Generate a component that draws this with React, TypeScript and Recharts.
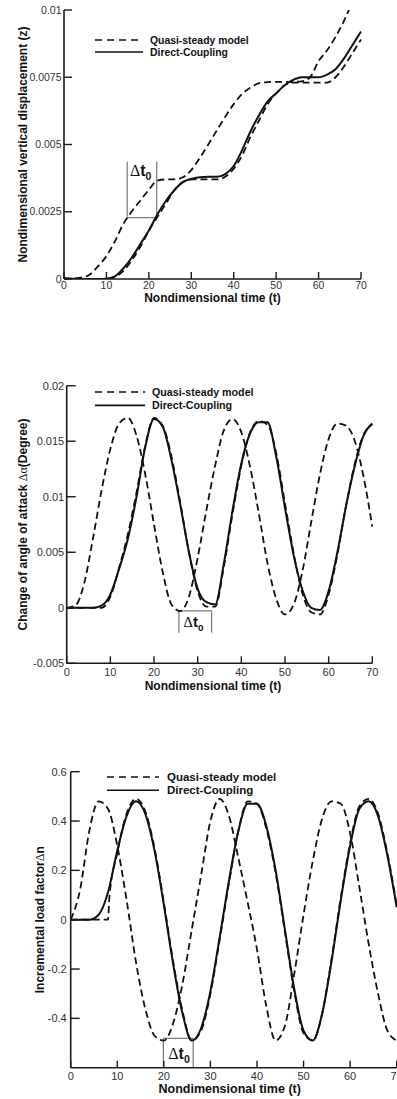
import React from "react";
import { LineChart, Line, XAxis, YAxis, ReferenceLine, ReferenceDot, Legend, Label } from "recharts";

const FONT = '"Liberation Sans", Arial, Helvetica, sans-serif';
const SERIF = '"Liberation Serif", "Times New Roman", serif';

const timeTicks = [0, 10, 20, 30, 40, 50, 60, 70];
const gridTime = [0, 2, 4, 6, 8, 10, 12, 14, 16, 18, 20, 22, 24, 26, 28, 30, 32, 34, 36, 38, 40, 42, 44, 46, 48, 50, 52, 54, 56, 58, 60, 62, 64, 66, 68, 70];
const legendNames = ["Quasi-steady model", "Direct-Coupling"];

// --- vertical displacement z
const zTicks = [0, 0.0025, 0.005, 0.0075, 0.01];
const zQuasi = [0, 0.00002, 0.00005, 0.00016, 0.00047, 0.00085, 0.0014, 0.00205, 0.00252, 0.00292, 0.00332, 0.00366, 0.0037, 0.0037, 0.00378, 0.00405, 0.0045, 0.005, 0.00552, 0.00603, 0.0065, 0.00688, 0.00712, 0.00728, 0.00732, 0.00733, 0.00733, 0.00733, 0.00735, 0.0075, 0.0081, 0.0085, 0.009, 0.0096, 0.0103, 0.011];
const zShifted = [0, 0, 0, 0, 0, 0.00001, 0.00008, 0.0003, 0.0007, 0.0012, 0.0018, 0.0023, 0.0028, 0.0033, 0.0036, 0.0037, 0.0037, 0.0037, 0.0037, 0.0038, 0.0041, 0.0046, 0.0053, 0.0059, 0.0065, 0.0069, 0.0072, 0.0073, 0.0073, 0.0073, 0.0073, 0.0073, 0.0075, 0.0079, 0.0084, 0.0089];
const zDirect = [0.00004, 0.00001, 0, 0, 0, 0.00001, 0.0001, 0.0004, 0.0008, 0.0013, 0.0018, 0.0024, 0.0029, 0.0033, 0.0036, 0.00372, 0.00378, 0.0038, 0.0038, 0.0039, 0.0042, 0.0048, 0.0055, 0.0061, 0.0066, 0.0069, 0.0072, 0.0074, 0.0075, 0.0075, 0.0075, 0.0076, 0.0078, 0.0082, 0.0087, 0.0092];
const zBracket = { left: 14.9, right: 21.85, low: 0.00228, high: 0.00437, labelT: 15.55, labelV: 0.00384 };

// --- angle of attack
const aTicks = [-0.005, 0, 0.005, 0.01, 0.015, 0.02];
const aQuasi = [0, 0.0002, 0.0022, 0.0062, 0.0106, 0.0143, 0.0166, 0.0171, 0.0155, 0.012, 0.0075, 0.0032, 0.0003, -0.0003, 0.001, 0.0045, 0.0088, 0.0128, 0.016, 0.017, 0.0158, 0.0127, 0.0085, 0.004, 0.0008, -0.0006, 0.0003, 0.0033, 0.0077, 0.012, 0.0152, 0.0166, 0.0164, 0.015, 0.0118, 0.0073];
const aShifted = [0, 0, 0, 0, 0, 0.001, 0.0036, 0.0066, 0.0104, 0.0146, 0.0171, 0.0164, 0.0136, 0.0095, 0.005, 0.0015, 0.0001, 0.0001, 0.0037, 0.0085, 0.0128, 0.0158, 0.0168, 0.0165, 0.0139, 0.0094, 0.0049, 0.0013, -0.0004, -0.0006, 0.0012, 0.0048, 0.0092, 0.013, 0.0156, 0.0165];
const aDirect = [0, 0, 0, 0, 0.0002, 0.0012, 0.0035, 0.0062, 0.01, 0.0145, 0.017, 0.0163, 0.0133, 0.0093, 0.005, 0.0017, 0.0005, 0.0003, 0.004, 0.0088, 0.013, 0.0157, 0.0167, 0.0167, 0.0136, 0.009, 0.0047, 0.0016, 0, -0.0002, 0.0015, 0.005, 0.0092, 0.0128, 0.0155, 0.0166];
const aBracket = { left: 25.7, right: 33.2, low: -0.00225, high: -0.00027, labelT: 26.7, labelV: -0.00171 };

// --- incremental load factor
const nTicks = [-0.4, -0.2, 0, 0.2, 0.4, 0.6];
const nQuasi = [0, 0.12, 0.36, 0.48, 0.45, 0.3, 0.08, -0.17, -0.36, -0.47, -0.49, -0.42, -0.26, -0.04, 0.18, 0.4, 0.49, 0.42, 0.25, 0.07, -0.12, -0.35, -0.49, -0.43, -0.22, 0.02, 0.24, 0.41, 0.48, 0.47, 0.35, 0.13, -0.1, -0.3, -0.45, -0.49];
const nShiftedTime = [0, 8, 8.3, 10, 12, 14, 16, 18, 20, 22, 24, 26, 28, 30, 32, 34, 36, 38, 40, 42, 44, 46, 48, 50, 52, 54, 56, 58, 60, 62, 64, 66, 68, 70];
const nShifted = [0, 0, 0.09, 0.27, 0.43, 0.49, 0.44, 0.29, 0.07, -0.17, -0.37, -0.49, -0.45, -0.3, -0.08, 0.15, 0.36, 0.48, 0.47, 0.37, 0.19, -0.05, -0.29, -0.46, -0.49, -0.38, -0.16, 0.09, 0.31, 0.46, 0.49, 0.43, 0.27, 0.06];
const nDirect = [0, 0, 0, 0.02, 0.11, 0.28, 0.42, 0.48, 0.43, 0.28, 0.06, -0.18, -0.38, -0.49, -0.44, -0.29, -0.07, 0.16, 0.36, 0.47, 0.47, 0.38, 0.2, -0.04, -0.28, -0.45, -0.49, -0.38, -0.17, 0.08, 0.3, 0.45, 0.48, 0.42, 0.26, 0.05];
const nBracket = { left: 19.9, right: 26.3, low: -0.6, high: -0.481, labelT: 20.96, labelV: -0.566 };

const zip = (ts: number[], vs: number[]) => ts.map((t, i) => ({ t, v: vs[i] }));

function DeltaT(props: any) {
  const vb = props.viewBox || {};
  const fs = props.fs;
  return (
    <text x={vb.x} y={vb.y} fontSize={fs} fill="#111">
      <tspan fontFamily={SERIF}>Δ</tspan>
      <tspan fontFamily={FONT} fontWeight="bold">t</tspan>
      <tspan fontFamily={FONT} fontWeight="bold" fontSize={fs * 0.66} dy={fs * 0.25}>0</tspan>
    </text>
  );
}

function YTitle(props: any) {
  const vb = props.viewBox || { y: 0, height: 0 };
  const cy = vb.y + vb.height / 2;
  return (
    <text transform={`translate(${props.titleX},${cy}) rotate(-90)`} textAnchor="middle" dominantBaseline="central" fontSize={props.fs} fill="#111">
      {props.parts.map((p: any, i: number) => (
        <tspan key={i} fontFamily={p.serif ? SERIF : FONT} fontWeight={p.serif ? "normal" : "bold"}>{p.text}</tspan>
      ))}
    </text>
  );
}

function XTitle(props: any) {
  const vb = props.viewBox || { x: 0, y: 0, width: 0 };
  return (
    <text x={vb.x + vb.width / 2 + props.shiftX} y={vb.y + props.shiftY} textAnchor="middle" dominantBaseline="central" fontSize={props.fs} fontFamily={FONT} fontWeight="bold" fill="#111">
      Nondimensional time (t)
    </text>
  );
}

function Key(props: any) {
  const { len, gap, fs, textX } = props;
  return (
    <svg width={240} height={gap + 14} style={{ overflow: "visible" }}>
      {legendNames.map((name, i) => (
        <g key={name}>
          <line x1={0} x2={len} y1={6 + i * gap} y2={6 + i * gap} stroke="#111" strokeWidth={1.6} strokeDasharray={i === 0 ? "7 5" : undefined} />
          <text x={textX} y={6 + i * gap} dominantBaseline="central" fontFamily={FONT} fontWeight="bold" fontSize={fs} fill="#111">{name}</text>
        </g>
      ))}
    </svg>
  );
}

function Panel(p: any) {
  const axisLine = { stroke: "#1a1a1a", strokeWidth: 1.6 };
  const tickLine = { stroke: "#1a1a1a", strokeWidth: 1.4 };
  const tick = { fill: "#333", fontSize: p.tickFs, fontFamily: FONT };
  const b = p.bracket;
  const seg = { stroke: "#777", strokeWidth: 1.2, ifOverflow: "visible" as const };
  return (
    <LineChart width={p.width} height={p.height} margin={p.margin}>
      <XAxis
        type="number"
        dataKey="t"
        domain={[0, 70]}
        ticks={timeTicks}
        interval={0}
        height={p.xHeight}
        axisLine={axisLine}
        tickLine={tickLine}
        tickSize={-7}
        tickMargin={p.xTickMargin}
        tick={tick}
        allowDuplicatedCategory={false}
      >
        <Label content={<XTitle shiftX={p.xTitleDx} shiftY={p.xTitleDy} fs={p.xTitleFs} />} />
      </XAxis>
      <YAxis
        type="number"
        domain={p.yDomain}
        ticks={p.yTicks}
        interval={0}
        allowDataOverflow
        width={p.yWidth}
        axisLine={axisLine}
        tickLine={tickLine}
        tickSize={-p.yTickLen}
        tickMargin={p.yTickMargin}
        tick={tick}
      >
        <Label content={<YTitle titleX={p.yTitleX} parts={p.yTitle} fs={p.yTitleFs} />} />
      </YAxis>
      <Legend
        layout="horizontal"
        verticalAlign="middle"
        align="center"
        content={<Key len={p.keyLen} gap={p.keyGap} fs={p.keyFs} textX={p.keyTextX} />}
        wrapperStyle={{ left: p.keyLeft, top: p.keyTop, width: 240, height: 30 }}
      />
      <ReferenceLine segment={[{ x: b.left, y: b.low }, { x: b.left, y: b.high }]} {...seg} />
      <ReferenceLine segment={[{ x: b.right, y: b.low }, { x: b.right, y: b.high }]} {...seg} />
      <ReferenceLine segment={[{ x: b.left, y: p.bracketRow }, { x: b.right, y: p.bracketRow }]} {...seg} />
      <ReferenceDot x={b.labelT} y={b.labelV} r={0} stroke="none" fill="none" label={<DeltaT fs={p.deltaFs} />} />
      <Line data={p.quasi} dataKey="v" type="monotone" stroke="#111" strokeWidth={1.8} strokeDasharray="7 4" dot={false} isAnimationActive={false} name={legendNames[0]} />
      <Line data={p.shifted} dataKey="v" type="monotone" stroke="#111" strokeWidth={1.8} strokeDasharray="7 4" dot={false} isAnimationActive={false} legendType="none" />
      <Line data={p.direct} dataKey="v" type="monotone" stroke="#111" strokeWidth={2} dot={false} isAnimationActive={false} name={legendNames[1]} />
    </LineChart>
  );
}

export default function App() {
  return (
    <div style={{ position: "absolute", left: 0, top: 0, width: 397, height: 1099, overflow: "hidden", background: "#fff", fontFamily: FONT }}>
      <div style={{ position: "absolute", left: 0, top: 0 }}>
        <Panel
          width={397} height={320}
          margin={{ top: 10, right: 36, bottom: 0, left: 0 }}
          xHeight={41} yWidth={64}
          yDomain={[0, 0.01]} yTicks={zTicks}
          tickFs={10.5} xTickMargin={10} yTickLen={8} yTickMargin={10.5}
          xTitleDx={0} xTitleDy={19} xTitleFs={12}
          yTitleX={22.7} yTitleFs={12}
          yTitle={[{ text: "Nondimensional vertical displacement (z)" }]}
          keyLeft={95} keyTop={34} keyLen={48} keyGap={12} keyFs={10.4} keyTextX={55}
          bracket={zBracket} bracketRow={zBracket.low} deltaFs={16}
          quasi={zip(gridTime, zQuasi)} shifted={zip(gridTime, zShifted)} direct={zip(gridTime, zDirect)}
        />
      </div>
      <div style={{ position: "absolute", left: 0, top: 340 }}>
        <Panel
          width={397} height={360}
          margin={{ top: 45.7, right: 24.7, bottom: 0, left: 0 }}
          xHeight={36.7} yWidth={66.7}
          yDomain={[-0.005, 0.02]} yTicks={aTicks}
          tickFs={11} xTickMargin={12} yTickLen={9} yTickMargin={11.5}
          xTitleDx={-6.5} xTitleDy={23} xTitleFs={12}
          yTitleX={23} yTitleFs={12}
          yTitle={[{ text: "Change of angle of attack " }, { text: "Δα", serif: true }, { text: "(Degree)" }]}
          keyLeft={95} keyTop={46.3} keyLen={50} keyGap={13.4} keyFs={10.7} keyTextX={57}
          bracket={aBracket} bracketRow={aBracket.high} deltaFs={15}
          quasi={zip(gridTime, aQuasi)} shifted={zip(gridTime, aShifted)} direct={zip(gridTime, aDirect)}
        />
      </div>
      <div style={{ position: "absolute", left: 0, top: 700 }}>
        <Panel
          width={420} height={399}
          margin={{ top: 71.7, right: 23.3, bottom: 0, left: 0 }}
          xHeight={31.3} yWidth={70.7}
          yDomain={[-0.6, 0.6]} yTicks={nTicks}
          tickFs={11} xTickMargin={11} yTickLen={9} yTickMargin={13}
          xTitleDx={-4} xTitleDy={21} xTitleFs={12.5}
          yTitleX={40} yTitleFs={12}
          yTitle={[{ text: "Incremental load factor" }, { text: "Δ", serif: true }, { text: "n" }]}
          keyLeft={106.7} keyTop={70.7} keyLen={52} keyGap={13.3} keyFs={11.5} keyTextX={60}
          bracket={nBracket} bracketRow={nBracket.high} deltaFs={16}
          quasi={zip(gridTime, nQuasi)} shifted={zip(nShiftedTime, nShifted)} direct={zip(gridTime, nDirect)}
        />
      </div>
    </div>
  );
}
